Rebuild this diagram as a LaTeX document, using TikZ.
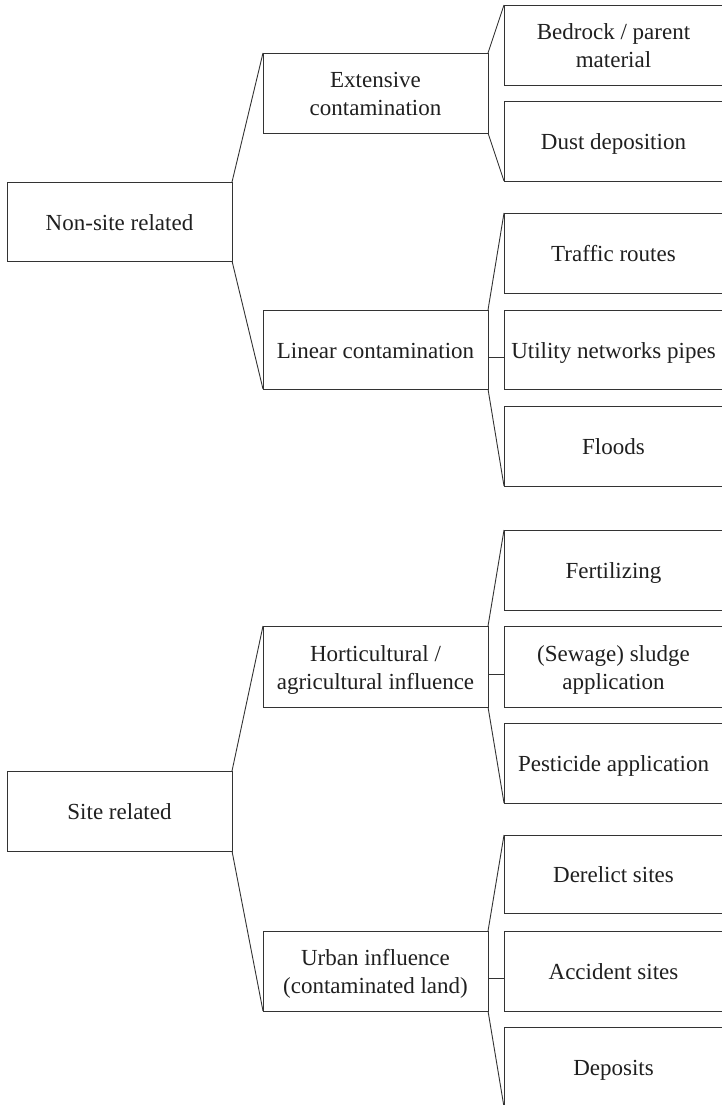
\documentclass[tikz,border=0pt]{standalone}
\usepackage{fontspec}
\setmainfont{Liberation Serif}
\newcommand{\lnstrut}{\rule[-5pt]{0pt}{27pt}}
\begin{document}
\begin{tikzpicture}[x=1pt,y=-1pt,
  every node/.style={font=\fontsize{23}{26}\selectfont, text=black!88},
  box/.style={draw=black!80, line width=0.9pt, outer sep=0pt, inner sep=0pt, align=center, minimum height=80pt},
  midbox/.style={box, minimum width=225pt},
  leafbox/.style={box, minimum width=219pt},
  link/.style={draw=black!80, line width=0.9pt}]
\useasboundingbox (0,0) rectangle (722,1105);
% level 1
\node[midbox, minimum height=79pt] (ns) at (119.5,221.5) {\lnstrut Non-site related};
\node[midbox] (site) at (119.5,811) {\lnstrut Site related};
% level 2
\node[midbox] (ext) at (375.5,93) {\lnstrut Extensive\\\lnstrut contamination};
\node[midbox, minimum height=79pt] (lin) at (375.5,349.5) {\lnstrut Linear contamination};
\node[midbox, minimum height=81pt] (hort) at (375.5,666.5) {\lnstrut Horticultural /\\\lnstrut agricultural influence};
\node[midbox] (urb) at (375.5,971) {\lnstrut Urban influence\\\lnstrut (contaminated land)};
% leaves
\node[leafbox] (bed) at (613.5,45) {\lnstrut Bedrock / parent\\\lnstrut material};
\node[leafbox] (dust) at (613.5,141) {\lnstrut Dust deposition};
\node[leafbox] (traf) at (613.5,253) {\lnstrut Traffic routes};
\node[leafbox, minimum height=79pt] (util) at (613.5,349.5) {\lnstrut Utility networks pipes};
\node[leafbox] (flood) at (613.5,446) {\lnstrut Floods};
\node[leafbox] (fert) at (613.5,570) {\lnstrut Fertilizing};
\node[leafbox, minimum height=81pt] (sew) at (613.5,666.5) {\lnstrut (Sewage) sludge\\\lnstrut application};
\node[leafbox] (pest) at (613.5,763) {\lnstrut Pesticide application};
\node[leafbox, minimum height=78pt] (der) at (613.5,874) {\lnstrut Derelict sites};
\node[leafbox] (acc) at (613.5,971) {\lnstrut Accident sites};
\node[leafbox] (dep) at (613.5,1067) {\lnstrut Deposits};
% connectors
\draw[link] (ns.north east) -- (ext.north west);
\draw[link] (ns.south east) -- (lin.south west);
\draw[link] (ext.north east) -- (bed.north west);
\draw[link] (ext.south east) -- (dust.south west);
\draw[link] (lin.north east) -- (traf.north west);
\draw[link] ([yshift=-8pt]lin.east) -- ([yshift=-8pt]util.west);
\draw[link] (lin.south east) -- (flood.south west);
\draw[link] (site.north east) -- (hort.north west);
\draw[link] (site.south east) -- (urb.south west);
\draw[link] (hort.north east) -- (fert.north west);
\draw[link] ([yshift=-8pt]hort.east) -- ([yshift=-8pt]sew.west);
\draw[link] (hort.south east) -- (pest.south west);
\draw[link] (urb.north east) -- (der.north west);
\draw[link] ([yshift=-7pt]urb.east) -- ([yshift=-7pt]acc.west);
\draw[link] (urb.south east) -- (dep.south west);
\end{tikzpicture}
\end{document}
